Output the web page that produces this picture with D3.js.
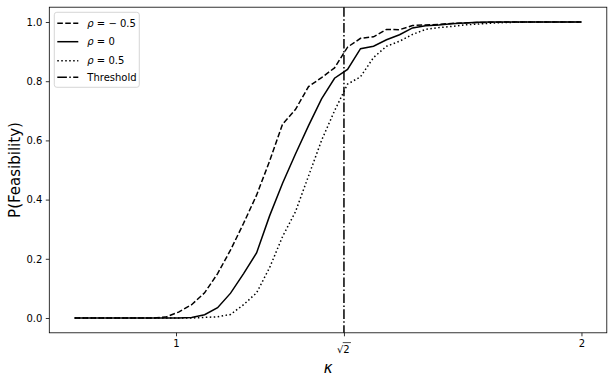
<!DOCTYPE html>
<html>
<head>
<meta charset="utf-8">
<script src="https://cdn.jsdelivr.net/npm/d3@7"></script>
<style>
  body { margin: 0; background: #fff; }
  svg { display: block; font-family: "DejaVu Sans", sans-serif; }
</style>
</head>
<body>
<svg id="chart" width="614" height="383"></svg>
<script>
// kappa grid (40 points from 0.75 to 2)
var kappa = [0.75, 0.7821, 0.8141, 0.8462, 0.8782, 0.9103, 0.9423, 0.9744, 1.0064, 1.0385,
             1.0705, 1.1026, 1.1346, 1.1667, 1.1987, 1.2308, 1.2628, 1.2949, 1.3269, 1.3590,
             1.3910, 1.4231, 1.4551, 1.4872, 1.5192, 1.5513, 1.5833, 1.6154, 1.6474, 1.6795,
             1.7115, 1.7436, 1.7756, 1.8077, 1.8397, 1.8718, 1.9038, 1.9359, 1.9679, 2.0];

var rhoNeg = [0, 0, 0, 0, 0, 0, 0, 0.003, 0.02, 0.045,
              0.085, 0.15, 0.23, 0.32, 0.415, 0.53, 0.655, 0.705, 0.782, 0.812,
              0.845, 0.915, 0.945, 0.95, 0.975, 0.974, 0.988, 0.99, 0.992, 0.995,
              0.997, 0.998, 0.999, 1, 1, 1, 1, 1, 1, 1];

var rhoZero = [0, 0, 0, 0, 0, 0, 0, 0, 0, 0.002,
               0.011, 0.035, 0.084, 0.15, 0.22, 0.345, 0.455, 0.555, 0.65, 0.74,
               0.81, 0.84, 0.91, 0.918, 0.94, 0.957, 0.98, 0.987, 0.99, 0.994,
               0.997, 0.999, 1, 1, 1, 1, 1, 1, 1, 1];

var rhoPos = [0, 0, 0, 0, 0, 0, 0, 0, 0, 0,
              0.002, 0.004, 0.012, 0.045, 0.085, 0.17, 0.275, 0.36, 0.48, 0.6,
              0.7, 0.79, 0.815, 0.88, 0.918, 0.935, 0.958, 0.975, 0.981, 0.985,
              0.99, 0.993, 0.996, 0.998, 0.999, 1, 1, 1, 1, 1];

var threshold = Math.SQRT2;
var yTicks = [0, 0.2, 0.4, 0.6, 0.8, 1.0];
var xTicks = [1, Math.SQRT2, 2];

(function drawChart() {
  var series = [
    { name: "\u2212 0.5", values: rhoNeg, dash: "5.55,2.4" },
    { name: "0", values: rhoZero, dash: null },
    { name: "0.5", values: rhoPos, dash: "1.5,2.475" }
  ];

  var svg = d3.select("#chart");
  var mLeft = 49.3, mRight = 606.8, mTop = 7.2, mBottom = 332.8;

  var x = d3.scaleLinear().domain([0.6875, 2.0625]).range([mLeft, mRight]);
  var y = d3.scaleLinear().domain([-0.05, 1.05]).range([mBottom, mTop]);

  var line = d3.line()
      .x(function(d) { return x(d[0]); })
      .y(function(d) { return y(d[1]); });

  var plot = svg.append("g");

  series.forEach(function(s) {
    plot.append("path")
        .datum(kappa.map(function(k, i) { return [k, s.values[i]]; }))
        .attr("d", line)
        .attr("fill", "none")
        .attr("stroke", "#000")
        .attr("stroke-width", 1.5)
        .attr("stroke-dasharray", s.dash);
  });

  plot.append("line")
      .attr("x1", x(threshold)).attr("x2", x(threshold))
      .attr("y1", mTop).attr("y2", mBottom)
      .attr("stroke", "#000")
      .attr("stroke-width", 1.5)
      .attr("stroke-dasharray", "9.6,2.4,1.5,2.4");

  // axes
  var xAxis = svg.append("g")
      .attr("transform", "translate(0," + mBottom + ")")
      .call(d3.axisBottom(x).tickValues(xTicks).tickSizeOuter(0).tickSizeInner(3.5).tickPadding(3.5)
            .tickFormat(function(d) { return d === Math.SQRT2 ? "" : d3.format("d")(d); }));

  var yAxis = svg.append("g")
      .attr("transform", "translate(" + mLeft + ",0)")
      .call(d3.axisLeft(y).tickValues(yTicks).tickSizeOuter(0).tickSizeInner(3.5).tickPadding(3.5)
            .tickFormat(d3.format(".1f")));

  [xAxis, yAxis].forEach(function(a) {
    a.select(".domain").remove();
    a.selectAll("line").attr("stroke", "#000").attr("stroke-width", 0.8);
    a.selectAll("text").attr("font-size", 10).attr("fill", "#000")
     .attr("font-family", "DejaVu Sans");
  });

  // sqrt(2) label
  var sx = x(Math.SQRT2);
  var sq = svg.append("text")
      .attr("x", sx - 7).attr("y", mBottom + 20)
      .attr("font-size", 10)
      .attr("font-family", "DejaVu Sans");
  sq.append("tspan").text("\u221a");
  sq.append("tspan").text("2");
  svg.append("line")
      .attr("x1", sx - 1.2).attr("x2", sx + 7)
      .attr("y1", mBottom + 9.8).attr("y2", mBottom + 9.8)
      .attr("stroke", "#000").attr("stroke-width", 0.7);

  // frame
  svg.append("rect")
      .attr("x", mLeft).attr("y", mTop)
      .attr("width", mRight - mLeft).attr("height", mBottom - mTop)
      .attr("fill", "none").attr("stroke", "#000").attr("stroke-width", 0.8);

  // axis labels
  svg.append("text")
      .attr("x", (mLeft + mRight) / 2).attr("y", 373)
      .attr("text-anchor", "middle")
      .attr("font-size", 15).attr("font-style", "italic")
      .text("\u03ba");

  svg.append("text")
      .attr("transform", "translate(20," + (mTop + mBottom) / 2 + ") rotate(-90)")
      .attr("text-anchor", "middle")
      .attr("font-size", 15)
      .text("P(Feasibility)");

  // legend
  var legend = svg.append("g");
  legend.append("rect")
      .attr("x", 54.3).attr("y", 12.3)
      .attr("width", 85).attr("height", 75)
      .attr("rx", 2.5)
      .attr("fill", "#fff").attr("fill-opacity", 0.8)
      .attr("stroke", "#cccccc").attr("stroke-width", 0.8);

  var rowsY = [23.3, 41.7, 60.7, 77.3];
  var items = series.map(function(s) { return { rho: true, name: s.name, dash: s.dash }; });
  items.push({ rho: false, name: "Threshold", dash: "9.6,2.4,1.5,2.4" });

  items.forEach(function(it, i) {
    legend.append("line")
        .attr("x1", 57.3).attr("x2", 78.3)
        .attr("y1", rowsY[i]).attr("y2", rowsY[i])
        .attr("stroke", "#000").attr("stroke-width", 1.5)
        .attr("stroke-dasharray", it.dash);
    var t = legend.append("text")
        .attr("x", 87.3).attr("y", rowsY[i] + 3.6)
        .attr("font-size", 10);
    if (it.rho) {
      t.append("tspan").attr("font-style", "italic").text("\u03c1");
      t.append("tspan").text(" = " + it.name);
    } else {
      t.text(it.name);
    }
  });
}());
</script>
</body>
</html>
